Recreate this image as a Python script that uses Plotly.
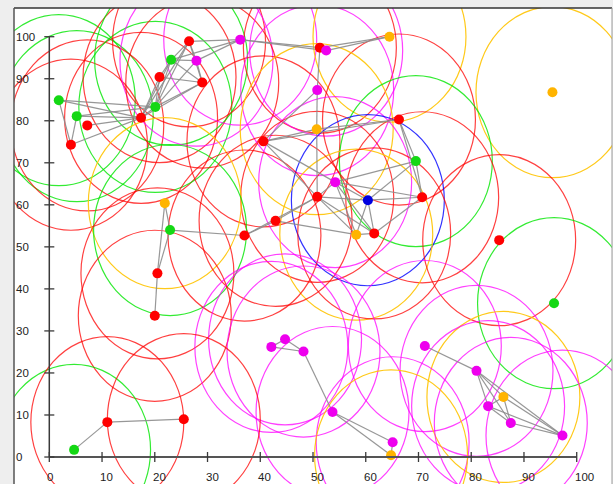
import plotly.graph_objects as go

# Node positions (x, y) and node groups
node_x = [1.8, 5.2, 7.2, 4.1, 17.4, 20.1, 20.9, 23.1, 26.5, 27.9,
          29.0, 36.2, 40.6, 51.3, 52.5, 64.5, 95.4, 50.8, 66.3, 50.7,
          69.5, 54.2, 50.8, 60.4, 70.7, 58.2, 61.6, 85.3, 21.9, 22.9,
          37.0, 42.9, 20.5, 20.0, 95.7, 71.2, 81.0, 86.1, 83.2, 87.5,
          97.3, 42.1, 44.7, 48.2, 53.7, 65.1, 64.8, 4.7, 11.0, 25.5]
node_y = [84.9, 81.1, 78.9, 74.3, 80.7, 83.3, 90.4, 94.5, 98.9, 94.3,
          89.1, 99.3, 75.1, 97.4, 96.7, 100.0, 86.8, 87.3, 80.3, 78.0,
          70.4, 65.4, 61.9, 61.1, 61.8, 52.9, 53.2, 51.6, 60.4, 54.0,
          52.7, 56.2, 43.7, 33.6, 36.6, 26.4, 20.5, 14.3, 12.1, 8.1,
          5.1, 26.2, 28.0, 25.1, 10.7, 3.5, 0.4, 1.7, 8.3, 9.0]
node_group = ["green", "green", "red", "red", "red", "green", "red", "green", "red", "magenta",
              "red", "magenta", "red", "red", "magenta", "orange", "orange", "magenta", "red", "orange",
              "green", "magenta", "red", "blue", "red", "orange", "red", "red", "orange", "green",
              "red", "red", "red", "red", "green", "magenta", "magenta", "orange", "magenta", "magenta",
              "magenta", "magenta", "magenta", "magenta", "magenta", "magenta", "orange", "green", "red", "red"]

# Links between nodes (index pairs)
links = [(0, 3), (1, 3), (0, 4), (0, 5), (1, 4), (1, 5), (2, 4), (3, 4), (4, 5),
         (4, 6), (4, 7), (4, 8), (4, 10), (5, 6), (5, 7), (5, 8), (5, 9), (5, 10),
         (6, 7), (6, 10), (7, 8), (7, 9), (7, 10), (8, 9), (8, 10), (9, 10),
         (8, 11), (7, 11), (9, 11),
         (11, 13), (11, 14), (13, 14), (13, 15), (14, 15), (13, 17),
         (17, 19), (17, 12),
         (12, 19), (12, 18), (19, 18), (19, 22), (12, 21), (12, 22),
         (18, 20), (18, 24), (20, 21), (20, 23), (21, 23), (21, 24), (21, 22),
         (22, 23), (23, 24), (22, 25), (22, 26), (23, 25), (23, 26), (25, 26),
         (24, 26), (21, 25), (21, 26), (20, 24),
         (28, 29), (28, 32), (29, 32), (32, 33), (29, 30), (30, 31), (30, 22),
         (31, 22), (31, 25),
         (35, 36), (36, 37), (36, 38), (36, 39), (36, 40), (37, 38), (37, 39),
         (37, 40), (38, 39), (38, 40), (39, 40),
         (41, 42), (41, 43), (42, 43), (43, 44), (44, 45), (44, 46), (45, 46),
         (47, 48), (48, 49)]

tick_values = [0, 10, 20, 30, 40, 50, 60, 70, 80, 90, 100]
tick_labels = ["0", "10", "20", "30", "40", "50", "60", "70", "80", "90", "100"]

# Styling
RANGE_X = 14.5   # transmission range drawn around each node (x units)
RANGE_Y = 20.35  # (y units)
ring_color = {"red": "rgba(255,0,0,0.75)", "green": "rgba(0,230,0,0.8)",
              "magenta": "rgba(255,0,255,0.75)", "orange": "rgba(255,195,0,0.9)",
              "blue": "rgba(0,0,255,0.8)"}
dot_color = {"red": "#ff0000", "green": "#14d814", "magenta": "#ee00ee",
             "orange": "#ffb400", "blue": "#0000e0"}
AXIS = "#3a3a3a"
TICK_DX = 0.95
TICK_DY = 1.19

fig = go.Figure()
shapes = []

# Range rings
for x, y, g in zip(node_x, node_y, node_group):
    shapes.append(dict(type="circle", xref="x", yref="y", layer="below",
                       x0=x - RANGE_X, x1=x + RANGE_X, y0=y - RANGE_Y, y1=y + RANGE_Y,
                       line=dict(color=ring_color[g], width=1.2)))

# Axes drawn through the origin
shapes.append(dict(type="line", xref="x", yref="y", x0=0, x1=100, y0=0, y1=0,
                   line=dict(color="#555555", width=2)))
shapes.append(dict(type="line", xref="x", yref="y", x0=0, x1=0, y0=0, y1=100,
                   line=dict(color=AXIS, width=1.5)))
for v in tick_values:
    shapes.append(dict(type="line", xref="x", yref="y", x0=v, x1=v, y0=-TICK_DY, y1=TICK_DY,
                       line=dict(color=AXIS, width=1.3)))
    shapes.append(dict(type="line", xref="x", yref="y", x0=-TICK_DX, x1=TICK_DX, y0=v, y1=v,
                       line=dict(color=AXIS, width=1.3)))

# Panel frame
shapes.append(dict(type="line", xref="paper", yref="paper", x0=0, x1=1, y0=1, y1=1,
                   line=dict(color="#333333", width=1.5)))
shapes.append(dict(type="line", xref="paper", yref="paper", x0=0, x1=0, y0=0, y1=1,
                   line=dict(color="#555555", width=1.5)))
shapes.append(dict(type="line", xref="paper", yref="paper", x0=1, x1=1, y0=0, y1=1,
                   line=dict(color="#9a9a9a", width=1)))

# Links
lx, ly = [], []
for a, b in links:
    lx += [node_x[a], node_x[b], None]
    ly += [node_y[a], node_y[b], None]
fig.add_trace(go.Scatter(x=lx, y=ly, mode="lines", hoverinfo="skip",
                         line=dict(color="rgba(140,140,140,0.9)", width=1.2)))

# Nodes
fig.add_trace(go.Scatter(x=node_x, y=node_y, mode="markers",
                         marker=dict(size=10, color=[dot_color[g] for g in node_group],
                                     line=dict(width=0))))

annotations = []
for v, t in zip(tick_values, tick_labels):
    annotations.append(dict(x=v, y=0, xref="x", yref="y", text=t, showarrow=False,
                            xanchor="left", yanchor="middle", xshift=-4, yshift=-20,
                            font=dict(family="Liberation Sans, Arial", size=11.5, color="#222222")))
    annotations.append(dict(x=0, y=v, xref="paper", yref="y", text=t, showarrow=False,
                            xanchor="left", yanchor="middle", xshift=0, yshift=0,
                            font=dict(family="Liberation Sans, Arial", size=11.5, color="#222222")))

fig.update_layout(
    width=613, height=484,
    margin=dict(l=14, r=1, t=8, b=0),
    paper_bgcolor="#eeeeee", plot_bgcolor="#ffffff",
    showlegend=False,
    xaxis=dict(range=[-6.693, 106.69], visible=False, fixedrange=True),
    yaxis=dict(range=[-6.42, 106.83], visible=False, fixedrange=True),
    shapes=shapes, annotations=annotations,
)

fig.write_html("out.html")
